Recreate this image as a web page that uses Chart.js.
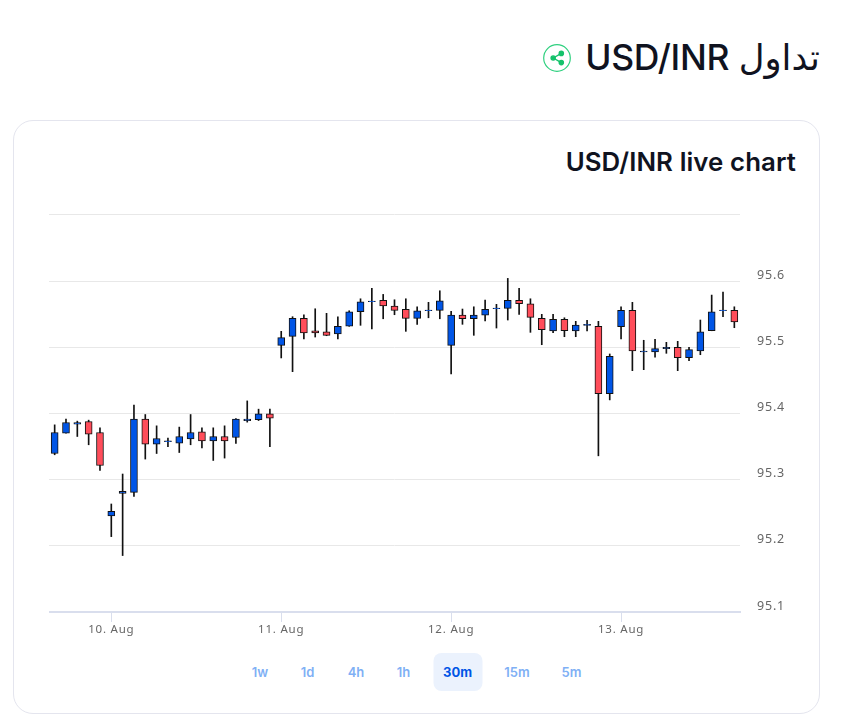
<!DOCTYPE html>
<html dir="ltr">
<head>
<meta charset="utf-8">
<script src="https://cdn.jsdelivr.net/npm/chart.js@4"></script>
<style>
html,body{margin:0;padding:0;background:#fff;width:844px;height:722px;overflow:hidden}
body{position:relative;font-family:Inter,"Noto Sans",sans-serif;color:#10131f}
#h1{position:absolute;right:24px;top:34px;direction:rtl;font:500 35.5px "Inter","DejaVu Sans",sans-serif;white-space:nowrap;line-height:48px;letter-spacing:-.3px}
#share{position:absolute;left:543px;top:44px;width:28px;height:28px}
#card{position:absolute;left:13px;top:120px;width:805px;height:592px;border:1px solid #e4e5ee;border-radius:20px;box-sizing:content-box}
#title{position:absolute;right:48px;top:146px;font:600 25.8px Inter,sans-serif;line-height:32px;letter-spacing:.1px}
#wrap{position:absolute;left:49px;top:192px;width:751px;height:458px}
#btns{position:absolute;left:0;top:653px;width:844px;height:38px}
#btns span{position:absolute;top:0;height:38px;line-height:39px;text-align:center;font:600 13px/39px Inter,sans-serif;color:#7fb0f5;transform:translateX(-50%)}
#btns span.on{color:#0055e6;background:#ebf2fd;border-radius:8px;width:49px;font-weight:700}
</style>
</head>
<body>
<div id="h1">تداول USD/INR</div>
<svg id="share" viewBox="0 0 28 28"><circle cx="14" cy="14" r="13.3" fill="none" stroke="#2fd07f" stroke-width="1.2"/><g fill="#14c26b" stroke="#14c26b" stroke-width="1.4"><line x1="18.3" y1="9.4" x2="10.2" y2="14"/><line x1="10.2" y1="14" x2="18.3" y2="18.6"/><circle cx="18.3" cy="9.4" r="2.1"/><circle cx="10.2" cy="14" r="2.1"/><circle cx="18.3" cy="18.6" r="2.1"/></g></svg>
<div id="card"></div>
<div id="title">USD/INR live chart</div>
<div id="wrap"><canvas id="c" width="751" height="458"></canvas></div>
<div id="btns"></div>
<script>
const highs=[95.3828,95.3914,95.3884,95.3899,95.3783,95.2632,95.3085,95.4125,95.3984,95.3813,95.3628,95.3794,95.3984,95.3783,95.3783,95.3813,95.3923,95.4190,95.4065,95.4065,
95.5241,95.5462,95.5492,95.5582,95.5513,95.5462,95.5552,95.5733,95.5890,95.5799,95.5718,95.5733,95.5612,95.5679,95.5854,95.5543,95.5578,95.5612,95.5713,95.5649,
95.6041,95.5890,95.5733,95.5498,95.5498,95.5446,95.5392,95.5407,95.5392,95.4899,95.5612,95.5679,95.5106,95.5121,95.5075,95.5090,95.5000,95.5412,95.5789,95.5834,95.5612];
const lows=[95.3376,95.3703,95.3652,95.3527,95.3139,95.2139,95.1853,95.2747,95.3311,95.3395,95.3497,95.3410,95.3527,95.3481,95.3290,95.3326,95.3546,95.3869,95.3893,95.3497,
95.4839,95.4632,95.5125,95.5155,95.5175,95.5125,95.5317,95.5332,95.5276,95.5431,95.5492,95.5241,95.5347,95.5446,95.5431,95.4597,95.5347,95.5181,95.5397,95.5291,
95.5412,95.5498,95.5226,95.5039,95.5220,95.5160,95.5160,95.5246,95.3360,95.4205,95.5125,95.4647,95.4662,95.4849,95.4909,95.4647,95.4798,95.4888,95.5250,95.5462,95.5296];
const opens=[95.3395,95.3703,95.3839,95.3878,95.3712,95.2451,95.2792,95.2807,95.3914,95.3537,95.3572,95.3552,95.3617,95.3723,95.3587,95.3652,95.3637,95.3893,95.3908,95.3994,
95.5030,95.5166,95.5437,95.5250,95.5235,95.5201,95.5321,95.5537,95.5688,95.5709,95.5623,95.5573,95.5437,95.5552,95.5558,95.5030,95.5487,95.5431,95.5487,95.5582,
95.5588,95.5709,95.5658,95.5437,95.5246,95.5422,95.5246,95.5332,95.5317,95.4300,95.5311,95.5558,95.4929,95.4929,95.4979,95.5000,95.4843,95.4944,95.5250,95.5552,95.5558];
const closes=[95.3712,95.3863,95.3863,95.3688,95.3214,95.2521,95.2822,95.3914,95.3537,95.3622,95.3587,95.3652,95.3712,95.3587,95.3652,95.3587,95.3914,95.3914,95.3994,95.3929,
95.5145,95.5437,95.5216,95.5216,95.5181,95.5317,95.5537,95.5688,95.5698,95.5627,95.5558,95.5437,95.5552,95.5563,95.5703,95.5487,95.5431,95.5487,95.5573,95.5593,
95.5709,95.5658,95.5453,95.5265,95.5422,95.5250,95.5336,95.5347,95.4300,95.4864,95.5558,95.4944,95.4944,95.4979,95.5000,95.4843,95.4964,95.5235,95.5537,95.5563,95.5382];
const dayLabels={5:'10. Aug',20:'11. Aug',35:'12. Aug',50:'13. Aug'};
const categories=highs.map((_,i)=>dayLabels[i]||'');
const yTicks=[95.1,95.2,95.3,95.4,95.5,95.6];
const buttons=[['1w',260],['1d',307.5],['4h',356],['1h',403.5],['30m',457.5],['15m',517],['5m',571.5]];
const UP='#0055e6',DOWN='#ff4d5a';

const bh=document.getElementById('btns');
buttons.forEach(([t,x])=>{const s=document.createElement('span');s.textContent=t;s.style.left=x+'px';if(t==='30m')s.className='on';bh.appendChild(s);});

const spacing={id:'spacing',beforeDraw(c){c.ctx.letterSpacing='0.8px';}};
new Chart(document.getElementById('c'),{
 type:'bar',
 data:{labels:categories,datasets:[
  {label:'wick',data:highs.map((h,i)=>[lows[i],h]),backgroundColor:'#111',borderWidth:0,barThickness:1,grouped:false,order:2},
  {label:'body',data:opens.map((o,i)=>[o,closes[i]]),
   backgroundColor:opens.map((o,i)=>closes[i]>=o?UP:DOWN),
   borderColor:'#111',borderWidth:1,borderSkipped:false,barThickness:7,grouped:false,order:1}
 ]},
 plugins:[spacing],
 options:{
  responsive:false,animation:false,devicePixelRatio:1,
  layout:{padding:0},
  plugins:{legend:{display:false},tooltip:{enabled:false},title:{display:false}},
  scales:{
   x:{offset:true,
      border:{color:'#d9deed',width:2},
      grid:{drawOnChartArea:false,drawTicks:true,offset:false,tickLength:10,tickWidth:1,
            tickColor:c=>dayLabels[c.index]?'#d9deed':'rgba(0,0,0,0)'},
      ticks:{autoSkip:false,maxRotation:0,minRotation:0,padding:1,color:'#666',font:{family:'"Noto Sans"',size:11.5},
             callback:(v,i)=>dayLabels[i]||''},
      afterFit:s=>{s.height=38;}},
   y:{position:'right',min:95.1,max:95.7,
      border:{display:false},
      grid:{color:'#e8e8e8',lineWidth:1,drawTicks:false},
      afterBuildTicks:s=>{s.ticks=[...yTicks,95.7].map(v=>({value:v}));},
      ticks:{padding:17,color:'#666',font:{family:'"Noto Sans"',size:12.5,lineHeight:0.95},
             callback:v=>yTicks.includes(+(+v).toFixed(1))?[(+v).toFixed(1),'']:''},
      afterFit:s=>{s.width=60;}}
  }
 }
});
</script>
</body>
</html>
